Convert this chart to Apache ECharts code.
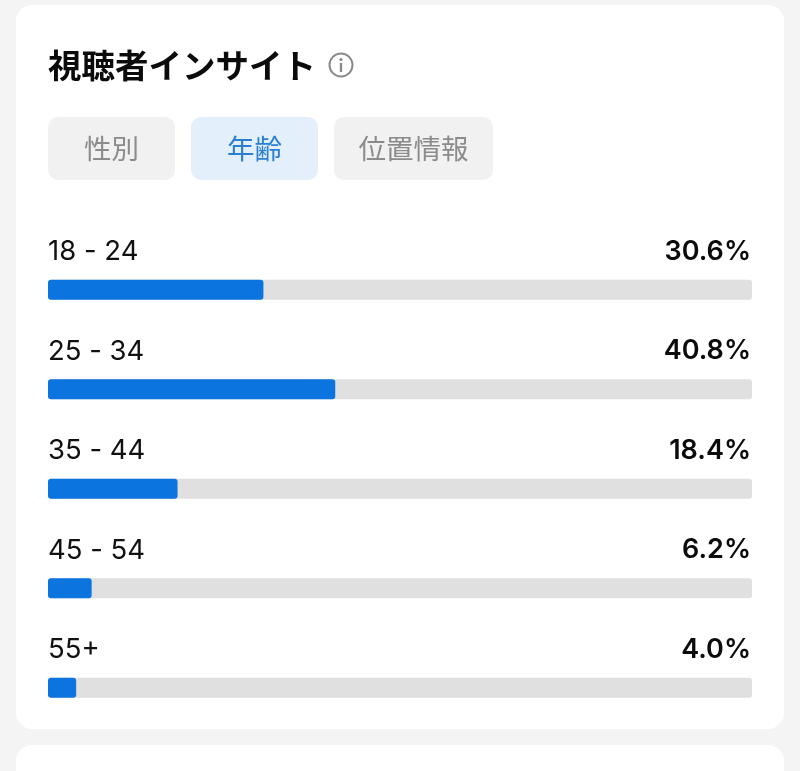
<!DOCTYPE html>
<html lang="ja">
<head>
<meta charset="utf-8">
<style>
  html, body { margin: 0; padding: 0; background: #f4f4f4; }
  #chart { width: 800px; height: 771px; }
</style>
<script src="https://cdn.jsdelivr.net/npm/echarts@6/dist/echarts.min.js"></script>
</head>
<body>
<div id="chart"></div>
<script>
const ageGroups = ['18 - 24', '25 - 34', '35 - 44', '45 - 54', '55+'];
const sharePercent = [30.6, 40.8, 18.4, 6.2, 4.0];
const shareLabels = sharePercent.map(v => v.toFixed(1) + '%');
const titleText = '視聴者インサイト';
const tabNames = ['性別', '年齢', '位置情報'];

const fontStack = 'Inter, "Noto Sans CJK JP", sans-serif';
const cjkStack = '"Noto Sans CJK JP", sans-serif';
const tabBoxes = [
  { x: 48, width: 127, fill: '#f1f1f1', color: '#8b8b8b' },
  { x: 191, width: 127, fill: '#e3f0fb', color: '#2a7fd2' },
  { x: 334, width: 159, fill: '#f1f1f1', color: '#8b8b8b' }
];

// Card backgrounds, heading and tab row sit behind the grid.
const chrome = [
  { type: 'rect', z: -10, shape: { x: 16, y: 5, width: 768, height: 724, r: 16 }, style: { fill: '#ffffff' } },
  { type: 'rect', z: -10, shape: { x: 16, y: 745, width: 768, height: 60, r: 16 }, style: { fill: '#ffffff' } },
  { type: 'text', x: 48, y: 65, style: { text: titleText, font: '700 33.5px ' + cjkStack, fill: '#0b0b0b', textVerticalAlign: 'middle' } },
  { type: 'circle', shape: { cx: 341, cy: 65, r: 11.5 }, style: { fill: 'none', stroke: '#8a8a8a', lineWidth: 2 } },
  { type: 'circle', shape: { cx: 341, cy: 59.5, r: 1.6 }, style: { fill: '#8a8a8a' } },
  { type: 'rect', shape: { x: 339.8, y: 63, width: 2.4, height: 9 }, style: { fill: '#8a8a8a' } }
];
tabNames.forEach((name, i) => {
  const box = tabBoxes[i];
  chrome.push({ type: 'rect', z: -5, shape: { x: box.x, y: 117, width: box.width, height: 63, r: 10 }, style: { fill: box.fill } });
  chrome.push({
    type: 'text', x: box.x + box.width / 2, y: 149,
    style: { text: name, font: '400 27.5px ' + cjkStack, fill: box.color, textAlign: 'center', textVerticalAlign: 'middle' }
  });
});

const chart = echarts.init(document.getElementById('chart'), null, { renderer: 'canvas' });
chart.setOption({
  animation: false,
  backgroundColor: '#f4f4f4',
  graphic: { elements: chrome },
  grid: { left: 48, right: 48, top: 240, height: 497.5 },
  xAxis: { type: 'value', min: 0, max: 100, show: false },
  yAxis: [
    {
      type: 'category', inverse: true, data: ageGroups, position: 'left',
      axisLine: { show: false }, axisTick: { show: false }, splitLine: { show: false },
      axisLabel: {
        inside: true, margin: 0, align: 'left', verticalAlign: 'bottom',
        padding: [0, 0, 22, 0], lineHeight: 32,
        fontFamily: fontStack, fontSize: 27.5, fontWeight: 400, color: '#111111'
      }
    },
    {
      type: 'category', inverse: true, data: shareLabels, position: 'right',
      axisLine: { show: false }, axisTick: { show: false }, splitLine: { show: false },
      axisLabel: {
        inside: true, margin: 1, align: 'right', verticalAlign: 'bottom',
        padding: [0, 0, 22, 0], lineHeight: 32,
        fontFamily: fontStack, fontSize: 27, fontWeight: 600, color: '#0b0b0b'
      }
    }
  ],
  series: [{
    type: 'bar',
    data: sharePercent,
    barWidth: 20,
    itemStyle: { color: '#0b74de', borderRadius: 3 },
    showBackground: true,
    backgroundStyle: { color: '#e0e0e0', borderRadius: 3 }
  }]
});
</script>
</body>
</html>
